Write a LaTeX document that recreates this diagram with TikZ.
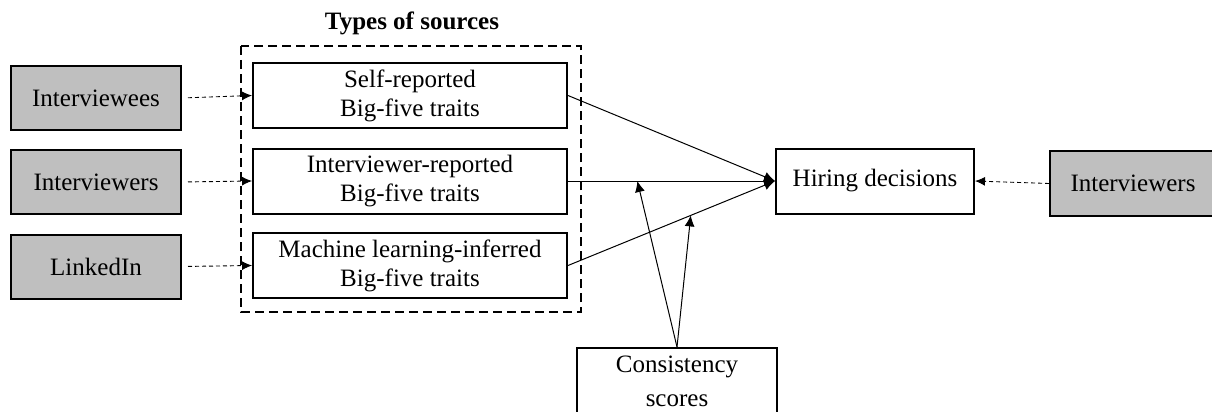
\documentclass[tikz,border=0pt]{standalone}
\usepackage{fontspec}
\setmainfont{Liberation Serif}
\usetikzlibrary{arrows.meta,calc}
\definecolor{srcgray}{HTML}{BFBFBF}
\begin{document}
\begin{tikzpicture}[x=1pt,y=-1pt,
  every node/.style={font=\fontsize{25}{29}\selectfont, align=center, inner sep=0pt},
  srcbox/.style={draw, line width=2pt, fill=srcgray, minimum width=170pt, minimum height=64pt},
  traitbox/.style={draw, line width=2pt, fill=white, minimum width=314pt, minimum height=65pt},
  plainbox/.style={draw, line width=2pt, fill=white},
  feed/.style={line width=0.9pt, dash pattern=on 4pt off 3pt, -{Latex[length=10pt,width=9pt]}},
  effect/.style={line width=1pt, -{Latex[length=11pt,width=10pt]}}
]
\useasboundingbox (0,0) rectangle (1212,412);
\clip (0,0) rectangle (1212,412);

% title and grouping frame
\node[font=\fontsize{25}{29}\selectfont\bfseries] (title) at (412,23) {Types of sources};
\draw[line width=2pt, dash pattern=on 9pt off 5pt] (241,46) rectangle (581,312);

% data sources
\node[srcbox] (s1) at (96,98) {Interviewees};
\node[srcbox] (s2) at (96,182) {Interviewers};
\node[srcbox] (s3) at (96,266.5) {LinkedIn};

% trait measures
\node[traitbox] (b1) at (410,95.5) {Self-reported\\Big-five traits};
\node[traitbox] (b2) at (410,181) {Interviewer-reported\\Big-five traits};
\node[traitbox] (b3) at (410,265.5) {Machine learning-inferred\\Big-five traits};

% outcome
\node[plainbox, minimum width=198pt, minimum height=65pt] (h) at (875,181) {Hiring decisions};
\node[srcbox, minimum width=180pt, minimum height=65pt, anchor=west] (s4) at (1049,183.5) {\hspace*{-14pt}Interviewers};

% moderator
\node[plainbox, minimum width=200pt, minimum height=80pt, anchor=north] (c) at (677,347) {};
\node[anchor=base] (ct1) at (677,372) {Consistency};
\node[anchor=base] (ct2) at (677,406) {scores};

% source feeds
\draw[feed, shorten <=6pt] (s1.east) -- (b1.west);
\draw[feed, shorten <=6pt] (s2.east) -- (b2.west);
\draw[feed, shorten <=6pt] (s3.east) -- (b3.west);
\draw[feed] (s4.west) -- (h.east);

% effects on hiring decisions
\coordinate (hin) at (h.west);
\draw[effect] (b1.east) -- (hin);
\draw[effect] (b2.east) -- (hin);
\draw[effect] (b3.east) -- (hin);

% moderation arrows onto the paths
\coordinate (m1) at ($(b2.east)!0.335!(hin)$);
\coordinate (m2) at ($(b3.east)!0.593!(hin)$);
\draw[effect] (c.north) -- (m1);
\draw[effect] (c.north) -- (m2);
\end{tikzpicture}
\end{document}
